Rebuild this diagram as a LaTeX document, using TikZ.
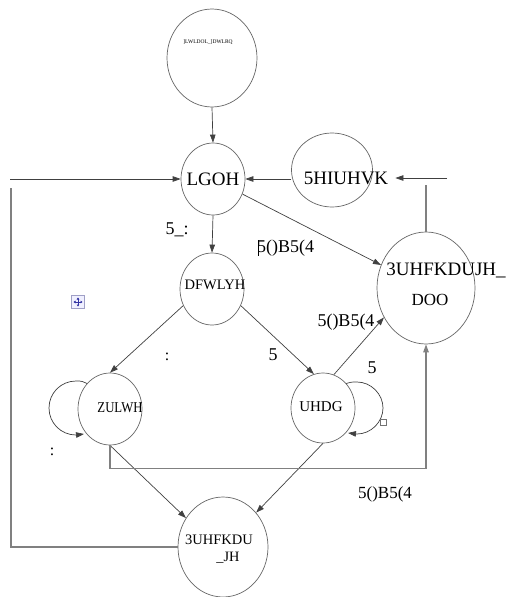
\documentclass[tikz,border=0pt]{standalone}
\usepackage{fontspec}
\setmainfont{Liberation Serif}
\usetikzlibrary{shapes.geometric,arrows.meta,backgrounds}
\newcommand\fsz[1]{\fontsize{#1}{#1}\selectfont}
\tikzset{
  st/.style={ellipse,draw=black!60,line width=0.7pt,fill=white,inner sep=0pt},
  tx/.style={inner sep=0pt,text=black},
  tip/.style={-{Triangle[length=8pt,width=5.5pt]}},
  arr/.style={draw=black!75,line width=0.7pt,tip},
  frame/.style={draw=black!50,line width=1.3pt},
}
\begin{document}
\begin{tikzpicture}[x=1pt,y=-1pt]
\useasboundingbox (0,0) rectangle (510,597);

% states
\node[st,minimum width=90pt,minimum height=98pt] (init) at (212,58) {};
\node[st,minimum width=64pt,minimum height=72pt] (idle) at (213,179) {};
\node[st,minimum width=81pt,minimum height=74pt] (rf) at (332,170) {};
\node[st,minimum width=64pt,minimum height=72pt] (act) at (212,289) {};
\node[st,minimum width=98pt,minimum height=112pt] (pall) at (426,288) {};
\node[st,minimum width=64pt,minimum height=72pt] (wr) at (110,409) {};
\node[st,minimum width=64pt,minimum height=70pt] (rd) at (323,408) {};
\node[st,minimum width=90pt,minimum height=100pt] (bp) at (223,547) {};

% state names
\node[tx] (init-t) at (208,42) {\fsz{5.5}]LWLDOL\_]DWLRQ};
\node[tx] (idle-t) at (213,179) {\fsz{19}LGOH};
\node[tx] (rf-t) at (346,178) {\fsz{19}5HIUHVK};
\node[tx] (act-t) at (215,285) {\fsz{14.5}DFWLYH};
\node[tx] (pall-t1) at (446,270) {\fsz{19}3UHFKDUJH\_};
\node[tx] (pall-t2) at (430,300) {\fsz{17}DOO};
\node[tx] (wr-t) at (120,408) {\fsz{15}\scalebox{0.85}[1]{ZULWH}};
\node[tx] (rd-t) at (321,407) {\fsz{15}UHDG};
\node[tx] (bp-t1) at (219,540) {\fsz{14.5}3UHFKDU};
\node[tx] (bp-t2) at (228,558) {\fsz{14.3}\_JH};

% edge labels
\node[tx] (l-rw) at (177,230) {\fsz{18}5\_:};
\node[tx] (l-rq1) at (286,248) {\fsz{18}\rule[-3pt]{0.6pt}{16pt}\kern-1.5pt5()B5(4};
\node[tx] (l-w1) at (167,357) {\fsz{16}:};
\node[tx] (l-r1) at (273,355) {\fsz{18}5};
\node[tx] (l-rq2) at (346,322) {\fsz{18}5()B5(4};
\node[tx] (l-r2) at (372,368) {\fsz{18}5};
\node[tx] (l-w2) at (52,452) {\fsz{16}:};
\node[tx] (l-rq3) at (385,494) {\fsz{17}5()B5(4};

% transitions
\draw[arr] (init.south) -- (idle.north);
\draw[arr] (idle.south) -- (act.north);
\draw[arr] (rf.west |- idle.east) -- (idle.east);
\draw[arr] (idle) -- (pall);
\draw[arr] (act.210) -- (wr.north);
\draw[arr] (act.-30) -- (rd.105);
\draw[arr] (rd.72) -- (pall.215);
\draw[arr] (wr.south) -- (bp.142);
\draw[arr] (rd.south) -- (bp.46);

% outer feedback lines
\coordinate (lin) at (10,179);
\coordinate (ltop) at (11,188);
\coordinate (rin) at (447,178);
\coordinate (pup) at (426,185);
\draw[arr] (lin) -- (idle.west);
\draw[frame] (bp.west) -| (ltop);
\draw[arr] (rin) -- ([xshift=7pt]rf-t.east);
\draw[frame] (pall.north) -- (pup);
\draw[frame,line width=1.1pt,tip] (wr.south) -- ++(0,23) -| (pall.south);

% self loops, behind the states
\begin{scope}[on background layer]
  \draw[arr] ([shift={(-20,-24)}]wr.center) .. controls (82,381) .. (76,381)
    .. controls (61,381) and (49,393) .. (49,408)
    .. controls (49,423) and (61,435) .. (76,435) -- (84,434);
  \draw[arr] ([shift={(22,-24)}]rd.center) .. controls (351,382) .. (357,382)
    .. controls (371,382) and (383,394) .. (383,408)
    .. controls (383,422) and (371,434) .. (357,434) -- (348,433);
\end{scope}
\node[draw=black!55,fill=white,minimum size=6pt,inner sep=0pt] (sq) at (383,422) {};

% table move handle
\node[draw=blue!25!gray!60,fill=blue!6,minimum size=13pt,inner sep=0pt] (mv) at (78,302) {};
\draw[blue!55!black!80,line width=0.6pt,{Triangle[length=2pt,width=2.6pt]}-{Triangle[length=2pt,width=2.6pt]}]
  ([xshift=-4.5pt]mv.center) -- ([xshift=4.5pt]mv.center);
\draw[blue!55!black!80,line width=0.6pt,{Triangle[length=2pt,width=2.6pt]}-{Triangle[length=2pt,width=2.6pt]}]
  ([yshift=-4.5pt]mv.center) -- ([yshift=4.5pt]mv.center);
\end{tikzpicture}
\end{document}
